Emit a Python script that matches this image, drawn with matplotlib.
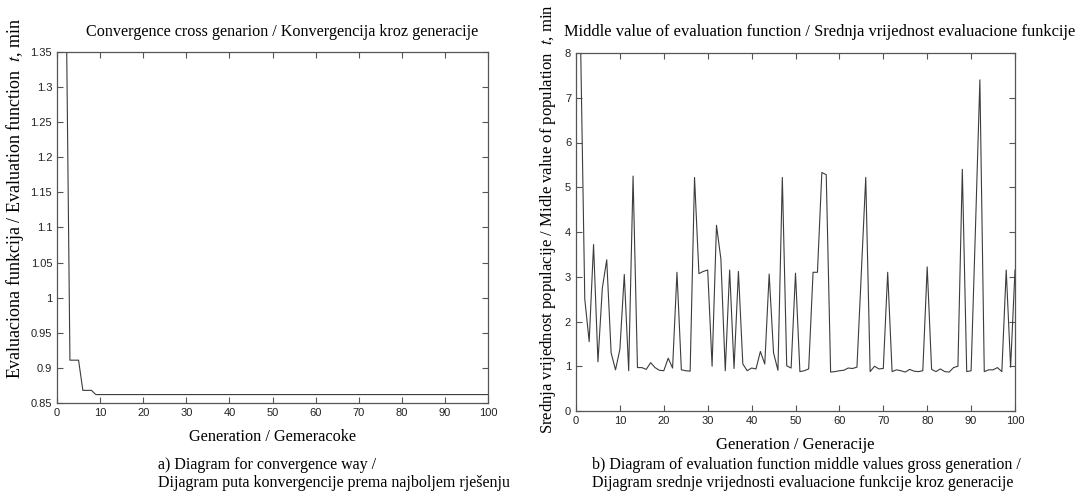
import numpy as np
import matplotlib
matplotlib.use("Agg")
import matplotlib.pyplot as plt

plt.rcParams['mathtext.fontset'] = 'stix'

# ---------------- data ----------------
gen = np.arange(1, 101)

# a) best value of evaluation function per generation
best_head = [2.0, 1.5, 0.911, 0.911, 0.911, 0.868, 0.868, 0.868]
best_tail_value = 0.862
best = best_head + [best_tail_value] * (100 - len(best_head))

# b) middle value of evaluation function per generation
middle = [8.5, 2.5, 1.55, 3.72, 1.1, 2.75, 3.38, 1.3, 0.92, 1.38,
          3.05, 0.9, 5.25, 0.97, 0.97, 0.93, 1.08, 0.97, 0.91, 0.9,
          1.18, 0.96, 3.1, 0.92, 0.9, 0.89, 5.22, 3.07, 3.12, 3.15,
          1.0, 4.15, 3.4, 0.9, 3.15, 0.95, 3.12, 1.05, 0.9, 0.96,
          0.94, 1.33, 1.05, 3.06, 1.3, 0.91, 5.22, 1.01, 0.96, 3.08,
          0.88, 0.9, 0.94, 3.1, 3.1, 5.33, 5.28, 0.87, 0.88, 0.9,
          0.91, 0.96, 0.95, 0.98, 3.1, 5.22, 0.88, 1.0, 0.94, 0.95,
          3.1, 0.88, 0.92, 0.9, 0.87, 0.93, 0.89, 0.88, 0.9, 3.22,
          0.93, 0.88, 0.94, 0.88, 0.87, 0.97, 1.0, 5.4, 0.88, 0.9,
          4.1, 7.4, 0.88, 0.92, 0.92, 0.97, 0.88, 3.15, 0.98, 3.15]

left_yticks = [0.85, 0.9, 0.95, 1, 1.05, 1.1, 1.15, 1.2, 1.25, 1.3, 1.35]
left_ylabels = ['0.85', '0.9', '0.95', '1', '1.05', '1.1', '1.15', '1.2',
                '1.25', '1.3', '1.35']
xticks = list(range(0, 101, 10))

serif = 'Liberation Serif'
sans = 'Liberation Sans'
line_col = '#3c3c3c'
spine_col = '#555555'

fig = plt.figure(figsize=(10.78, 5.0), dpi=100)


def style_axes(ax):
    ax.tick_params(direction='in', top=True, right=True, length=4,
                   width=0.8, colors=spine_col, labelcolor='#222222',
                   labelsize=8)
    for lab in ax.get_xticklabels() + ax.get_yticklabels():
        lab.set_fontfamily(sans)
    for s in ax.spines.values():
        s.set_color(spine_col)
        s.set_linewidth(0.9)


# ---------------- a) convergence ----------------
ax1 = fig.add_axes([57 / 1078, 1 - 403 / 500, 431 / 1078, 351 / 500])
ax1.plot(gen, best, color=line_col, lw=0.8)
ax1.set_xlim(0, 100)
ax1.set_ylim(0.85, 1.35)
ax1.set_xticks(xticks)
ax1.set_yticks(left_yticks)
ax1.set_yticklabels(left_ylabels)
style_axes(ax1)
ax1.set_xlabel('Generation / Gemeracoke', fontfamily=serif, fontsize=11.7,
               labelpad=8)
ax1.set_ylabel(r'Evaluaciona funkcija / Evaluation function  $\it{t}$, min',
               fontfamily=serif, fontsize=13)
ax1.yaxis.set_label_coords(-0.072, 0.584)
fig.text(282 / 1078, 1 - 32 / 500,
         'Convergence cross genarion / Konvergencija kroz generacije',
         ha='center', va='center', fontfamily=serif, fontsize=11.6)

# ---------------- b) middle values ----------------
ax2 = fig.add_axes([576 / 1078, 1 - 411 / 500, 439 / 1078, 358 / 500])
ax2.plot(gen, middle, color=line_col, lw=0.8)
ax2.set_xlim(0, 100)
ax2.set_ylim(0, 8)
ax2.set_xticks(xticks)
ax2.set_yticks(range(0, 9))
style_axes(ax2)
ax2.set_xlabel('Generation / Generacije', fontfamily=serif, fontsize=12,
               labelpad=8)
ax2.set_ylabel(r'Srednja vrijednost populacije / Midle value of population  $\it{t}$, min',
               fontfamily=serif, fontsize=12)
ax2.yaxis.set_label_coords(-0.041, 0.536)
fig.text(820 / 1078, 1 - 32 / 500,
         'Middle value of evaluation function / Srednja vrijednost evaluacione funkcije',
         ha='center', va='center', fontfamily=serif, fontsize=11.9)

# ---------------- captions ----------------
fig.text(158 / 1078, 1 - 474 / 500,
         'a) Diagram for convergence way /\n'
         'Dijagram puta konvergencije prema najboljem rješenju',
         ha='left', va='center', fontfamily=serif, fontsize=11.5,
         linespacing=1.2)
fig.text(592 / 1078, 1 - 474 / 500,
         'b) Diagram of evaluation function middle values gross generation /\n'
         'Dijagram srednje vrijednosti evaluacione funkcije kroz generacije',
         ha='left', va='center', fontfamily=serif, fontsize=11.5,
         linespacing=1.2)

fig.savefig('out.png', dpi=100)
